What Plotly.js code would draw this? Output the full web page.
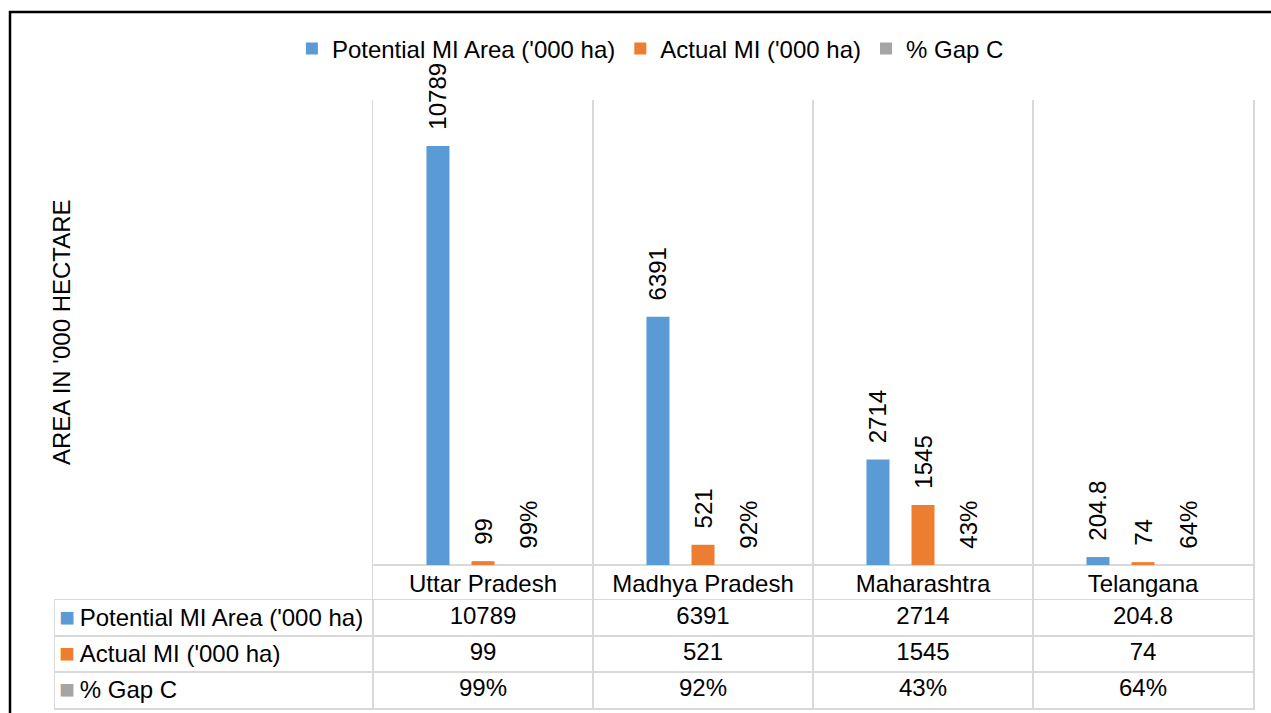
<!DOCTYPE html>
<html><head><meta charset="utf-8">
<script src="https://cdn.plot.ly/plotly-3.0.1.min.js"></script>
<style>html,body{margin:0;padding:0;background:#fff;} #chart{width:1271px;height:713px;}</style>
</head><body><div id="chart"></div>
<script>
// ---- data ----
const categories = ['Uttar Pradesh', 'Madhya Pradesh', 'Maharashtra', 'Telangana'];
const seriesNames = ["Potential MI Area ('000 ha)", "Actual MI ('000 ha)", "% Gap C"];
const potentialArea = [10789, 6391, 2714, 204.8];
const actualMI = [99, 521, 1545, 74];
const gapShare = [0.99, 0.92, 0.43, 0.64];
const yAxisTitle = "AREA IN '000 HECTARE";

// ---- styles ----
const colors = ['#5b9bd5', '#ed7d31', '#a5a5a5'];
const FONT = 'Liberation Sans, Arial, sans-serif';
const FS = 24;
const GRID = '#d9d9d9';
const pad = '\u00a0\u00a0';

const pct = v => Math.round(v * 100) + '%';
const seriesValues = [potentialArea, actualMI, gapShare];
const seriesText = [
  potentialArea.map(v => pad + v),
  actualMI.map(v => pad + v),
  gapShare.map(v => pad + pct(v))
];

const bars = seriesNames.map((name, k) => ({
  type: 'bar', name: name, x: categories, y: seriesValues[k],
  marker: {color: colors[k]},
  text: seriesText[k], textposition: 'outside', textangle: -90,
  constraintext: 'none', cliponaxis: false,
  textfont: {family: FONT, size: FS, color: '#000'},
  hoverinfo: 'skip'
}));

// data table drawn on its own category axes (x2: categories, y2: series)
const rowValues = [potentialArea.map(String), actualMI.map(String), gapShare.map(pct)];
const tx = [], ty = [], tt = [];
seriesNames.forEach((n, r) => categories.forEach((c, i) => {
  tx.push(c); ty.push(n); tt.push(rowValues[r][i]);
}));
const tableText = {
  type: 'scatter', mode: 'text', x: tx, y: ty, text: tt,
  xaxis: 'x2', yaxis: 'y2', showlegend: false, cliponaxis: false,
  textposition: 'middle center',
  textfont: {family: FONT, size: FS, color: '#000'},
  hoverinfo: 'skip'
};
const rowLabels = seriesNames.map((n, k) =>
  '<span style="color:' + colors[k] + ';font-size:26px">■</span>\u2009' + n);

// column geometry: label column 318px, category columns 220px
const labelColUnits = 318 / 220;

const layout = {
  width: 1271, height: 713,
  margin: {l: 55, r: 18, t: 100, b: 5},
  paper_bgcolor: '#fff', plot_bgcolor: '#fff',
  font: {family: FONT, size: FS, color: '#000'},
  barmode: 'group', bargap: 0.386, bargroupgap: 0.489,
  showlegend: true,
  legend: {orientation: 'h', x: 0.497, xanchor: 'center', y: 1.084, yanchor: 'middle',
           font: {family: FONT, size: FS, color: '#000'}, bgcolor: 'rgba(0,0,0,0)'},
  xaxis: {domain: [318 / 1198, 1], type: 'category', tickson: 'boundaries',
          showgrid: true, gridcolor: GRID, gridwidth: 1.5, ticks: '',
          ticklabelposition: 'inside', showline: false, zeroline: false,
          tickfont: {family: FONT, size: FS, color: '#000'}},
  yaxis: {domain: [108 / 608, 1], range: [-901, 11973], showgrid: false,
          showticklabels: false, ticks: '', zeroline: true, zerolinecolor: GRID,
          zerolinewidth: 2, showline: true, linecolor: GRID, linewidth: 1.5, mirror: true},
  xaxis2: {domain: [0, 1], anchor: 'y2', type: 'category', categoryarray: categories,
           categoryorder: 'array', range: [-0.5 - labelColUnits, categories.length - 0.5],
           tickson: 'boundaries', showgrid: true, gridcolor: GRID, gridwidth: 1.5,
           showticklabels: false, ticks: '', showline: true, linecolor: GRID, linewidth: 1.5,
           mirror: true, zeroline: false},
  yaxis2: {domain: [0, 108 / 608], anchor: 'x2', type: 'category', categoryarray: seriesNames,
           categoryorder: 'array', range: [seriesNames.length - 0.5, -0.5],
           tickson: 'boundaries', showgrid: true, gridcolor: GRID, gridwidth: 1.5,
           ticks: '', ticklabelposition: 'inside', ticklabelstandoff: 6,
           tickvals: seriesNames, ticktext: rowLabels,
           showline: true, linecolor: GRID, linewidth: 1.5, mirror: true, zeroline: false,
           tickfont: {family: FONT, size: FS, color: '#000'}},
  annotations: [{text: yAxisTitle, xref: 'paper', yref: 'paper', x: 6 / 1198, y: 376 / 608,
                 xanchor: 'center', yanchor: 'middle', textangle: -90, showarrow: false,
                 font: {family: FONT, size: FS, color: '#000'}}],
  shapes: [{type: 'rect', xref: 'paper', yref: 'paper', x0: -45 / 1198, x1: 1.2,
            y0: -0.2, y1: 696 / 608, line: {color: '#000', width: 2.5}, layer: 'above'}]
};

Plotly.newPlot('chart', bars.concat([tableText]), layout, {staticPlot: true, displayModeBar: false});
</script></body></html>
